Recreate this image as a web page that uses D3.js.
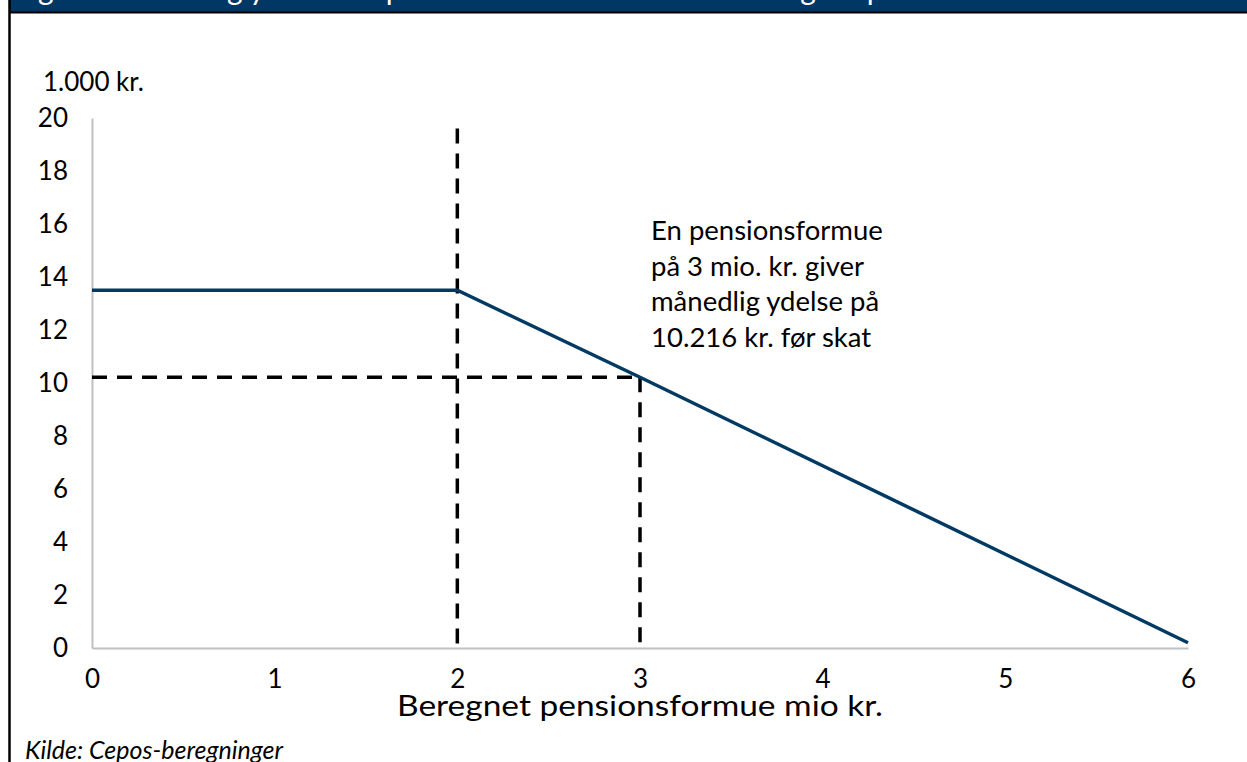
<!DOCTYPE html>
<html>
<head>
<meta charset="utf-8">
<script src="https://cdn.jsdelivr.net/npm/d3@7"></script>
<style>
  body { margin: 0; background: #fff; }
  svg { display: block; font-family: Lato, "Open Sans", sans-serif; }
</style>
</head>
<body>
<div id="chart"></div>
<script>
// data
const formue = [0, 2, 3, 6];              // mio kr.
const ydelse = [13.5, 13.5, 10.216, 0.2]; // 1.000 kr.
const xTicks = [0, 1, 2, 3, 4, 5, 6];
const yTicks = [0, 2, 4, 6, 8, 10, 12, 14, 16, 18, 20];
const graense = [2, 19.6];        // vertical dashed line: x, top
const eksempel = [3, 10.216];     // dashed guide to the example point
const noteLines = ['En pensionsformue', 'på 3 mio. kr. giver', 'månedlig ydelse på', '10.216 kr. før skat'];
const titleText = 'Figur 1: Månedlig ydelse for pensionist som funktion af beregnet pensionsformue';

const width = 1247, height = 762;
const svg = d3.select('#chart').append('svg').attr('width', width).attr('height', height);

// figure frame + title band (cut off at the top)
svg.append('rect').attr('x', 10).attr('y', 0).attr('width', width - 10).attr('height', 12).attr('fill', '#003764');
svg.append('text').attr('x', 14).attr('y', 0).attr('fill', '#fff').attr('font-size', '30px').text(titleText);
svg.append('line').attr('x1', 10).attr('x2', width).attr('y1', 12.5).attr('y2', 12.5).attr('stroke', '#000').attr('stroke-width', 2);
svg.append('line').attr('x1', 9.5).attr('x2', 9.5).attr('y1', 0).attr('y2', height).attr('stroke', '#000').attr('stroke-width', 2.5);

const x = d3.scaleLinear().domain([0, 6]).range([92, 1188]);
const y = d3.scaleLinear().domain([0, 20]).range([648, 118]);

// axes
const xAxis = svg.append('g').attr('transform', 'translate(0,' + y(0) + ')')
  .call(d3.axisBottom(x).tickValues(xTicks).tickSize(0).tickPadding(22).tickFormat(d3.format('d')));
const yAxis = svg.append('g').attr('transform', 'translate(' + x(0) + ',0)')
  .call(d3.axisLeft(y).tickValues(yTicks).tickSize(0).tickPadding(24).tickFormat(d3.format('d')));
[xAxis, yAxis].forEach(function (g) {
  g.select('.domain').attr('stroke', '#c0c0c0').attr('stroke-width', 2);
  g.selectAll('text').attr('fill', '#000').attr('font-size', '26px').attr('font-family', 'Lato, sans-serif');
});

// dashed guides
const dash = { stroke: '#000', 'stroke-width': 3.5, 'stroke-dasharray': '15,10' };
function dashed(x1, y1, x2, y2) {
  const l = svg.append('line').attr('x1', x(x1)).attr('y1', y(y1)).attr('x2', x(x2)).attr('y2', y(y2));
  Object.keys(dash).forEach(function (k) { l.attr(k, dash[k]); });
}
dashed(graense[0], graense[1], graense[0], 0);
dashed(0, eksempel[1], eksempel[0], eksempel[1]);
dashed(eksempel[0], eksempel[1], eksempel[0], 0);

// the ydelse line
const line = d3.line().x(function (d, i) { return x(formue[i]); }).y(function (d) { return y(d); });
svg.append('path').datum(ydelse).attr('d', line)
  .attr('fill', 'none').attr('stroke', '#003a63').attr('stroke-width', 3.5);

// texts
svg.append('text').attr('x', 43).attr('y', 91).attr('font-size', '26px').text('1.000 kr.');

const note = svg.append('text').attr('font-size', '27.5px');
note.selectAll('tspan').data(noteLines).enter().append('tspan')
  .attr('x', 651).attr('y', function (d, i) { return 240 + i * 35.5; })
  .text(function (d) { return d; });

svg.append('text').attr('x', x(3)).attr('y', 716).attr('text-anchor', 'middle')
  .attr('font-size', '29px').attr('textLength', 486).attr('lengthAdjust', 'spacingAndGlyphs')
  .text('Beregnet pensionsformue mio kr.');

svg.append('text').attr('x', 25).attr('y', 759).attr('font-size', '25px')
  .attr('font-style', 'italic').text('Kilde: Cepos-beregninger');
</script>
</body>
</html>
